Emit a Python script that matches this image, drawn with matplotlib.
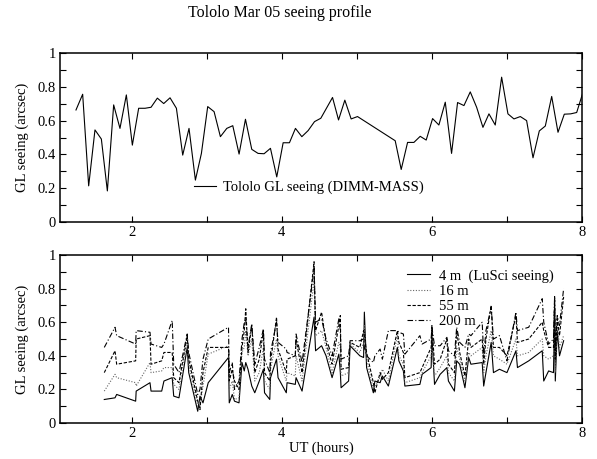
import numpy as np
import matplotlib
matplotlib.use('Agg')
import matplotlib.pyplot as plt
from matplotlib.ticker import MultipleLocator, FormatStrFormatter

plt.rcParams['font.family'] = ['Liberation Serif', 'DejaVu Serif']
plt.rcParams['font.size'] = 10.5

# DIMM-MASS ground layer seeing, UT hours
ut_gl = [1.258, 1.347, 1.427, 1.511, 1.596, 1.676, 1.760, 1.844, 1.929, 2.009,
         2.093, 2.178, 2.258, 2.342, 2.427, 2.511, 2.596, 2.680, 2.764, 2.849,
         2.929, 3.013, 3.098, 3.182, 3.267, 3.347, 3.431, 3.516, 3.600, 3.684,
         3.764, 3.849, 3.933, 4.018, 4.102, 4.182, 4.267, 4.351, 4.436, 4.520,
         4.676, 4.756, 4.840, 4.924, 5.009, 5.511, 5.591, 5.676, 5.760, 5.844,
         5.924, 6.009, 6.093, 6.178, 6.262, 6.342, 6.427, 6.511, 6.596, 6.680,
         6.760, 6.844, 6.929, 7.013, 7.093, 7.178, 7.262, 7.347, 7.431, 7.511,
         7.596, 7.680, 7.764, 7.849, 7.929, 8.009]
gl_seeing = [0.663, 0.756, 0.214, 0.545, 0.491, 0.184, 0.693, 0.554, 0.752, 0.455,
             0.673, 0.673, 0.679, 0.733, 0.701, 0.735, 0.673, 0.396, 0.554, 0.248,
             0.406, 0.683, 0.653, 0.505, 0.554, 0.570, 0.402, 0.608, 0.430, 0.406,
             0.404, 0.436, 0.267, 0.469, 0.469, 0.554, 0.505, 0.541, 0.594, 0.614,
             0.737, 0.604, 0.721, 0.610, 0.624, 0.481, 0.311, 0.471, 0.471, 0.507,
             0.485, 0.612, 0.574, 0.709, 0.406, 0.707, 0.689, 0.770, 0.679, 0.560,
             0.640, 0.574, 0.857, 0.640, 0.610, 0.624, 0.600, 0.380, 0.539, 0.568,
             0.743, 0.531, 0.638, 0.640, 0.648, 0.762]

# LuSci profile, seeing below given altitude
ut_lusci = [1.635, 1.778, 1.800, 2.053, 2.060, 2.244, 2.258, 2.400, 2.430, 2.540,
            2.560, 2.630, 2.740, 2.760, 2.880, 2.910, 2.950, 3.020, 3.290, 3.300,
            3.340, 3.370, 3.430, 3.470, 3.500, 3.520, 3.550, 3.600, 3.640, 3.700,
            3.755, 3.770, 3.840, 3.850, 3.930, 3.950, 4.060, 4.070, 4.180, 4.190,
            4.270, 4.430, 4.450, 4.530, 4.590, 4.670, 4.760, 4.780, 4.790, 4.890,
            4.910, 5.040, 5.090, 5.100, 5.130, 5.220, 5.240, 5.310, 5.340, 5.420,
            5.540, 5.560, 5.620, 5.640, 5.840, 5.870, 5.990, 6.000, 6.035, 6.110,
            6.200, 6.220, 6.300, 6.330, 6.370, 6.440, 6.490, 6.520, 6.670, 6.690,
            6.720, 6.790, 6.820, 6.900, 7.000, 7.120, 7.140, 7.290, 7.470, 7.490,
            7.555, 7.620, 7.635, 7.644, 7.670, 7.700, 7.755]
see_4m = [0.14, 0.15, 0.17, 0.13, 0.19, 0.24, 0.19, 0.19, 0.25, 0.27,
          0.16, 0.15, 0.45, 0.30, 0.07, 0.16, 0.12, 0.24, 0.39, 0.12,
          0.17, 0.13, 0.12, 0.36, 0.31, 0.36, 0.32, 0.22, 0.18, 0.25,
          0.32, 0.18, 0.14, 0.27, 0.38, 0.27, 0.18, 0.24, 0.23, 0.27,
          0.19, 0.63, 0.43, 0.46, 0.40, 0.27, 0.41, 0.30, 0.21, 0.25,
          0.46, 0.40, 0.39, 0.66, 0.33, 0.18, 0.25, 0.24, 0.28, 0.22,
          0.45, 0.37, 0.31, 0.22, 0.23, 0.29, 0.33, 0.52, 0.23, 0.29,
          0.33, 0.25, 0.19, 0.37, 0.35, 0.21, 0.39, 0.35, 0.36, 0.22,
          0.30, 0.48, 0.30, 0.32, 0.30, 0.43, 0.33, 0.37, 0.43, 0.25,
          0.31, 0.30, 0.70, 0.25, 0.55, 0.40, 0.49]
see_16m = [0.19, 0.29, 0.27, 0.24, 0.22, 0.36, 0.30, 0.31, 0.33, 0.33,
           0.23, 0.20, 0.50, 0.35, 0.10, 0.10, 0.22, 0.41, 0.46, 0.20,
           0.25, 0.14, 0.15, 0.42, 0.45, 0.55, 0.40, 0.50, 0.25, 0.30,
           0.45, 0.25, 0.20, 0.32, 0.50, 0.40, 0.25, 0.30, 0.28, 0.40,
           0.25, 0.85, 0.52, 0.55, 0.45, 0.30, 0.48, 0.45, 0.28, 0.30,
           0.47, 0.42, 0.48, 0.58, 0.38, 0.20, 0.22, 0.27, 0.32, 0.25,
           0.52, 0.40, 0.35, 0.24, 0.27, 0.30, 0.40, 0.45, 0.28, 0.33,
           0.40, 0.30, 0.25, 0.45, 0.38, 0.25, 0.42, 0.40, 0.45, 0.30,
           0.40, 0.55, 0.40, 0.38, 0.35, 0.50, 0.40, 0.42, 0.50, 0.40,
           0.38, 0.40, 0.75, 0.30, 0.60, 0.45, 0.52]
see_55m = [0.30, 0.43, 0.35, 0.37, 0.50, 0.52, 0.35, 0.37, 0.42, 0.42,
           0.27, 0.24, 0.52, 0.38, 0.13, 0.08, 0.30, 0.45, 0.45, 0.25,
           0.32, 0.25, 0.20, 0.45, 0.55, 0.68, 0.42, 0.58, 0.30, 0.38,
           0.55, 0.30, 0.25, 0.36, 0.63, 0.44, 0.30, 0.38, 0.40, 0.50,
           0.30, 0.96, 0.55, 0.66, 0.48, 0.35, 0.58, 0.64, 0.32, 0.33,
           0.48, 0.45, 0.55, 0.52, 0.42, 0.24, 0.18, 0.30, 0.26, 0.30,
           0.55, 0.48, 0.42, 0.27, 0.30, 0.33, 0.45, 0.58, 0.35, 0.38,
           0.50, 0.35, 0.30, 0.55, 0.42, 0.28, 0.50, 0.45, 0.50, 0.35,
           0.50, 0.70, 0.45, 0.45, 0.40, 0.64, 0.48, 0.50, 0.60, 0.55,
           0.45, 0.45, 0.73, 0.38, 0.62, 0.52, 0.75]
see_200m = [0.45, 0.57, 0.52, 0.47, 0.55, 0.54, 0.47, 0.45, 0.47, 0.61,
            0.35, 0.30, 0.53, 0.42, 0.17, 0.20, 0.38, 0.50, 0.57, 0.30,
            0.36, 0.20, 0.25, 0.50, 0.60, 0.62, 0.45, 0.59, 0.35, 0.45,
            0.56, 0.38, 0.30, 0.42, 0.60, 0.48, 0.44, 0.42, 0.40, 0.53,
            0.36, 0.92, 0.60, 0.62, 0.50, 0.40, 0.62, 0.55, 0.38, 0.40,
            0.49, 0.49, 0.50, 0.45, 0.40, 0.36, 0.40, 0.44, 0.38, 0.55,
            0.55, 0.54, 0.53, 0.41, 0.52, 0.47, 0.50, 0.57, 0.46, 0.46,
            0.51, 0.43, 0.40, 0.57, 0.48, 0.45, 0.53, 0.52, 0.60, 0.40,
            0.55, 0.69, 0.50, 0.52, 0.37, 0.66, 0.55, 0.57, 0.74, 0.60,
            0.47, 0.50, 0.76, 0.45, 0.64, 0.58, 0.80]

fig = plt.figure(figsize=(5.97, 4.59), dpi=100)
ax1 = fig.add_axes([0.1005, 0.5163, 0.8744, 0.3682])
ax2 = fig.add_axes([0.1005, 0.0784, 0.8744, 0.3660])

def style_axis(ax):
	ax.set_xlim(1.045, 8.0)
	ax.set_ylim(0, 1)
	ax.xaxis.set_major_locator(MultipleLocator(2))
	ax.xaxis.set_minor_locator(MultipleLocator(1))
	ax.yaxis.set_major_locator(MultipleLocator(0.2))
	ax.yaxis.set_minor_locator(MultipleLocator(0.1))
	ax.yaxis.set_major_formatter(FormatStrFormatter('%g'))
	ax.tick_params(which='both', direction='in', top=True, right=True,
				   length=4, width=0.8, labelsize=10.5, pad=3)
	for sp in ax.spines.values():
		sp.set_linewidth(1.1)
	ax.set_ylabel('GL seeing (arcsec)', fontsize=10.5, labelpad=6)

# top: total ground layer
ax1.plot(ut_gl, gl_seeing, color='black', lw=0.8, label='Tololo GL seeing (DIMM-MASS)')
style_axis(ax1)
ax1.legend(loc='lower left', bbox_to_anchor=(0.245, 0.13), frameon=False,
		   handlelength=1.5, handletextpad=0.5, borderaxespad=0, fontsize=10.5)

# bottom: LuSci layers
ax2.plot(ut_lusci, see_4m, color='black', lw=0.8, ls='-', label='4 m  (LuSci seeing)')
ax2.plot(ut_lusci, see_16m, color='0.4', lw=0.8, ls=(0, (1, 1.5)), label='16 m')
ax2.plot(ut_lusci, see_55m, color='black', lw=0.8, ls=(0, (3, 1.5)), label='55 m')
ax2.plot(ut_lusci, see_200m, color='black', lw=0.8, ls=(0, (5, 2, 1, 2)), label='200 m')
style_axis(ax2)
ax2.set_xlabel('UT (hours)', fontsize=10.5, labelpad=1)
ax2.legend(loc='upper left', bbox_to_anchor=(0.653, 0.95), frameon=False,
		   handlelength=1.6, handletextpad=0.6, labelspacing=0.12,
		   borderaxespad=0, fontsize=10.5)

fig.text(280 / 597, 1 - 13 / 459, 'Tololo Mar 05 seeing profile', ha='center', va='center',
		 fontsize=11.5)

fig.savefig('out.png', dpi=100)
